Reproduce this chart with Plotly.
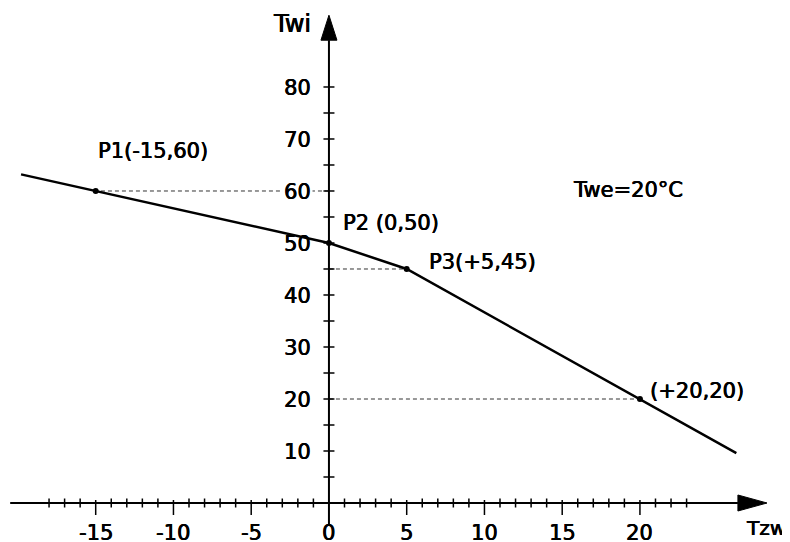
import plotly.graph_objects as go

# ---- data ----
curve_x = [-19.8, -15, 0, 5, 20, 26.2]
curve_y = [63.2, 60, 50, 45, 20, 9.6]
point_x = [-15, 0, 5, 20]
point_y = [60, 50, 45, 20]
point_labels = ["P1(-15,60)", "P2 (0,50)", "P3(+5,45)", "(+20,20)"]
guide_points = [0, 2, 3]  # indices of points with dashed helper lines
x_tick_labels = [-15, -10, -5, 0, 5, 10, 15, 20]
x_minor_ticks = list(range(-18, 24))
y_tick_labels = [10, 20, 30, 40, 50, 60, 70, 80]
y_minor_ticks = list(range(5, 85, 5))
x_title = "Tzw"
y_title = "Twi"
note = "Twe=20°C"

# ---- layout geometry (page body has an 8px margin) ----
W, H = 782, 534
X0, X1 = -20.64, 29.65
Y0, Y1 = -7.5, 95.19
px_x = (X1 - X0) / W   # data units per pixel (x)
px_y = (Y1 - Y0) / H   # data units per pixel (y)

FONT = "DejaVu Sans"
SHADOW = "0.45px 0 0 #000, -0.2px 0 0 #000"


def fnt(size):
    return dict(size=size, family=FONT, color="black", shadow=SHADOW)


fig = go.Figure()

# helper dashed lines
for i in guide_points:
    fig.add_trace(go.Scatter(x=[0, point_x[i]], y=[point_y[i], point_y[i]], mode="lines",
                             line=dict(color="#333333", width=1, dash="4px,3px"),
                             hoverinfo="skip", showlegend=False))

# axes lines
fig.add_trace(go.Scatter(x=[-20.5, 26.3], y=[0, 0], mode="lines",
                         line=dict(color="black", width=2), hoverinfo="skip", showlegend=False))
fig.add_trace(go.Scatter(x=[0, 0], y=[-21 * px_y, 89.0], mode="lines",
                         line=dict(color="black", width=2), hoverinfo="skip", showlegend=False))

# arrow heads
fig.add_trace(go.Scatter(x=[26.3, 28.17, 26.3, 26.3], y=[8 * px_y, 0, -8 * px_y, 8 * px_y],
                         mode="lines", fill="toself", fillcolor="black",
                         line=dict(color="black", width=1), hoverinfo="skip", showlegend=False))
fig.add_trace(go.Scatter(x=[-8 * px_x, 0, 8 * px_x, -8 * px_x], y=[89.0, 93.8, 89.0, 89.0],
                         mode="lines", fill="toself", fillcolor="black",
                         line=dict(color="black", width=1), hoverinfo="skip", showlegend=False))

# ticks
tx, ty = [], []
for v in x_minor_ticks:
    if v == 0:
        continue
    if v % 5 == 0:
        tx += [v, v, None]
        ty += [3 * px_y, -12 * px_y, None]
    else:
        tx += [v, v, None]
        ty += [4.5 * px_y, -4.5 * px_y, None]
for v in y_minor_ticks:
    tx += [-5.5 * px_x, 5.5 * px_x, None]
    ty += [v, v, None]
fig.add_trace(go.Scatter(x=tx, y=ty, mode="lines", line=dict(color="black", width=1.5),
                         hoverinfo="skip", showlegend=False))

# main curve
fig.add_trace(go.Scatter(x=curve_x, y=curve_y, mode="lines",
                         line=dict(color="black", width=2.5), hoverinfo="skip", showlegend=False))
fig.add_trace(go.Scatter(x=point_x, y=point_y, mode="markers",
                         marker=dict(color="black", size=6), hoverinfo="skip", showlegend=False))

guide_values = {point_y[i] for i in guide_points}
annotations = []
for v in x_tick_labels:
    annotations.append(dict(x=v, y=0, text=str(v), showarrow=False, xanchor="center",
                            yanchor="middle", yshift=-30, font=fnt(21)))
for v in y_tick_labels:
    annotations.append(dict(x=0, y=v, text=str(v), showarrow=False, xanchor="right",
                            yanchor="middle", xshift=-16, yshift=-1,
                            bgcolor="white" if v in guide_values else "rgba(0,0,0,0)",
                            font=fnt(21)))

label_shifts = [(57, 40), (62, 20), (76, 7), (57, 8)]
for i, t in enumerate(point_labels):
    annotations.append(dict(x=point_x[i], y=point_y[i], text=t, showarrow=False, xanchor="center",
                            yanchor="middle", xshift=label_shifts[i][0], yshift=label_shifts[i][1],
                            font=fnt(21)))

annotations.append(dict(x=0, y=93.8, text=y_title, showarrow=False, xanchor="right", yanchor="middle",
                        xshift=-16, yshift=-9, font=fnt(24)))
annotations.append(dict(x=28.17, y=0, text=x_title, showarrow=False, xanchor="center", yanchor="middle",
                        xshift=-1, yshift=-25, font=fnt(20)))
annotations.append(dict(x=19.2, y=60.1, text=note, showarrow=False, xanchor="center", yanchor="middle",
                        font=fnt(21)))

fig.update_layout(
    width=W, height=H, autosize=False,
    margin=dict(l=0, r=0, t=0, b=0, pad=0),
    paper_bgcolor="white", plot_bgcolor="white",
    xaxis=dict(range=[X0, X1], visible=False, showgrid=False, zeroline=False, fixedrange=True),
    yaxis=dict(range=[Y0, Y1], visible=False, showgrid=False, zeroline=False, fixedrange=True),
    annotations=annotations,
    showlegend=False,
)

fig.write_html("out.html")
